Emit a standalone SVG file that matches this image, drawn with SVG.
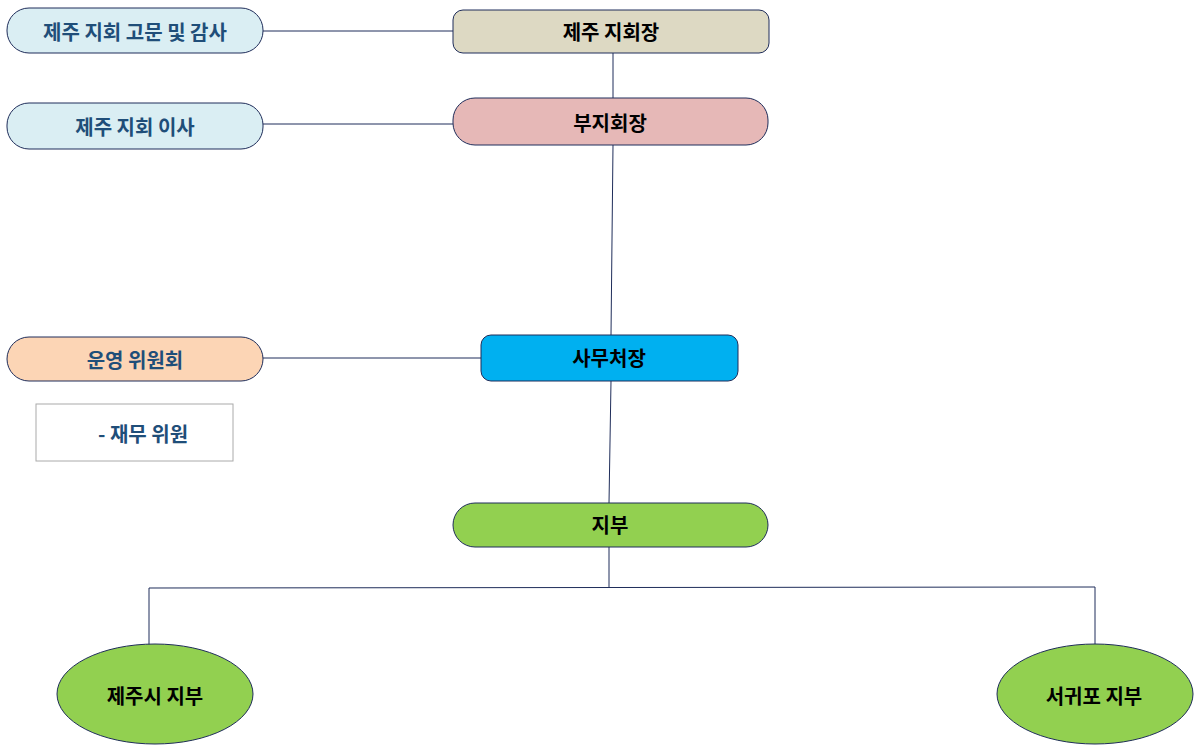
<svg xmlns="http://www.w3.org/2000/svg" width="1200" height="752" viewBox="0 0 1200 752">
<style>
.n{stroke:#1f2d5a;stroke-width:1}
.t{font-family:"Noto Sans CJK KR","Liberation Sans",sans-serif;font-weight:bold;font-size:20px;text-anchor:middle;dominant-baseline:central}
.b{fill:#1f4e79}
.k{fill:#000}
#c line{stroke:#1f2d5a;stroke-width:1}
</style>
<rect width="1200" height="752" fill="#fff"/>
<g id="c">
<line x1="263" y1="31" x2="453" y2="31"/>
<line x1="613" y1="53" x2="613" y2="98"/>
<line x1="263" y1="124" x2="453" y2="124"/>
<line x1="613" y1="145" x2="611" y2="335"/>
<line x1="263" y1="358" x2="481" y2="358"/>
<line x1="611" y1="381" x2="609" y2="503"/>
<line x1="609" y1="547" x2="609" y2="587"/>
<line x1="149" y1="588" x2="1095" y2="587"/>
<line x1="149" y1="588" x2="149" y2="645"/>
<line x1="1095" y1="587" x2="1095" y2="645"/>
</g>
<g id="advisor"><rect class="n" x="7" y="8" width="256" height="45" rx="22" fill="#daeef3"/><text class="t b" x="135" y="31">제주 지회 고문 및 감사</text></g>
<g id="head"><rect class="n" x="453" y="10" width="316" height="43" rx="10" fill="#ddd9c3"/><text class="t k" x="611" y="31">제주 지회장</text></g>
<g id="vice"><rect class="n" x="453" y="98" width="315" height="47" rx="22" fill="#e6b8b7"/><text class="t k" x="610" y="122">부지회장</text></g>
<g id="director"><rect class="n" x="7" y="103" width="256" height="46" rx="22" fill="#daeef3"/><text class="t b" x="135" y="126">제주 지회 이사</text></g>
<g id="secretary"><rect class="n" x="481" y="335" width="257" height="46" rx="10" fill="#00b0f0"/><text class="t k" x="609" y="357">사무처장</text></g>
<g id="committee"><rect class="n" x="7" y="337" width="256" height="44" rx="22" fill="#fcd5b5"/><text class="t b" x="135" y="359">운영 위원회</text></g>
<g id="finance"><rect x="36" y="404" width="197" height="57" fill="#fff" stroke="#aaaaaa"/><text class="t b" x="143" y="433">- 재무 위원</text></g>
<g id="branch"><rect class="n" x="453" y="503" width="315" height="44" rx="22" fill="#92d050"/><text class="t k" x="610" y="524">지부</text></g>
<g id="jejusi"><ellipse class="n" cx="155" cy="694" rx="98" ry="50" fill="#92d050"/><text class="t k" x="155" y="695">제주시 지부</text></g>
<g id="seogwipo"><ellipse class="n" cx="1095" cy="694" rx="98" ry="50" fill="#92d050"/><text class="t k" x="1094" y="695">서귀포 지부</text></g>
</svg>
